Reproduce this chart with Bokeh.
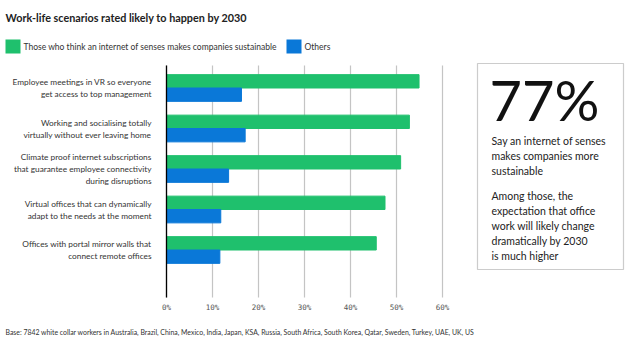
from bokeh.plotting import figure
from bokeh.models import ColumnDataSource, Range1d, Label, BoxAnnotation
from bokeh.embed import file_html
from bokeh.resources import INLINE

scenarios = [
    "Employee meetings in VR so everyone\nget access to top management",
    "Working and socialising totally\nvirtually without ever leaving home",
    "Climate proof internet subscriptions\nthat guarantee employee connectivity\nduring disruptions",
    "Virtual offices that can dynamically\nadapt to the needs at the moment",
    "Offices with portal mirror walls that\nconnect remote offices",
]
sustainable = [54.9, 52.8, 50.9, 47.5, 45.6]
others = [16.3, 17.1, 13.5, 11.8, 11.6]
x_ticks = [0, 10, 20, 30, 40, 50, 60]
x_tick_labels = [f"{t}%" for t in x_ticks]

series_names = ["Those who think an internet of senses makes companies sustainable", "Others"]
GREEN = "#1fc06d"
BLUE = "#0a78d8"
FONT = "Lato"

W, H = 639, 352
# scale: 4.6 px per percentage point, 0% at x=166 px; 40.5 px per category, first at y=87.5 px
PX_PER_PCT, X0 = 4.6, 166
PX_PER_CAT, Y0 = 40.5, 87.5
x_lo, x_hi = -X0 / PX_PER_PCT, (W - X0) / PX_PER_PCT
y_top, y_bot = -Y0 / PX_PER_CAT, (H - Y0) / PX_PER_CAT
GRID_TOP, GRID_BOT = -0.556, 5.173
TICK_Y = 5.42


def sx(cx):
    return cx


def sy(cy):
    return H - cy


idx = list(range(len(scenarios)))
src = ColumnDataSource(dict(
    y_g=[i - 0.165 for i in idx],
    y_b=[i + 0.165 for i in idx],
    sus=sustainable,
    oth=others,
))

p = figure(width=W, height=H, output_backend="svg", toolbar_location=None,
           x_range=Range1d(x_lo, x_hi), y_range=Range1d(y_bot, y_top),
           min_border=0)
p.axis.visible = False
p.grid.visible = False
p.outline_line_color = None
p.background_fill_color = "white"
p.border_fill_color = "white"

# grid lines and tick labels from the tick values
p.segment(x0=x_ticks, x1=x_ticks, y0=[GRID_TOP] * len(x_ticks), y1=[GRID_BOT] * len(x_ticks),
          line_color="#c4c4c4", line_width=1.2)
p.text(x=x_ticks, y=[TICK_Y] * len(x_ticks), text=x_tick_labels,
       text_align="center", text_baseline="middle",
       text_font={"value": "DejaVu Sans Mono"}, text_font_size="7.5px", text_color="#555555")

p.hbar(y="y_g", left=0, right="sus", height=0.33, color=GREEN, source=src)
p.hbar(y="y_b", left=0, right="oth", height=0.33, color=BLUE, source=src)

# value axis line at 0%
p.segment(x0=[0], x1=[0], y0=[GRID_TOP], y1=[GRID_BOT], line_color="black", line_width=1.3)

# category labels
for i, s in enumerate(scenarios):
    p.add_layout(Label(x=sx(151), x_units="screen", y=i, y_units="data", text=s,
                       text_align="right", text_baseline="middle",
                       text_font=FONT, text_font_size="8.3px", text_color="#333333",
                       text_line_height=1.2))

# title
p.add_layout(Label(x=sx(5), y=sy(17), x_units="screen", y_units="screen",
                   text="Work-life scenarios rated likely to happen by 2030",
                   text_font=FONT, text_font_style="bold", text_font_size="10.8px",
                   text_color="#222222", text_baseline="middle"))

# legend
for (x0, col, name, tx) in [(5, GREEN, series_names[0], 23), (286, BLUE, series_names[1], 304)]:
    p.add_layout(BoxAnnotation(left=sx(x0), right=sx(x0 + 15), top=sy(39), bottom=sy(53),
                               left_units="screen", right_units="screen",
                               top_units="screen", bottom_units="screen",
                               fill_color=col, fill_alpha=1, line_color=None, level="overlay"))
    p.add_layout(Label(x=sx(tx), y=sy(46), x_units="screen", y_units="screen", text=name,
                       text_font=FONT, text_font_size="8.5px", text_color="#333333",
                       text_baseline="middle"))

# callout box
p.add_layout(BoxAnnotation(left=sx(477), right=sx(623), top=sy(63), bottom=sy(269),
                           left_units="screen", right_units="screen",
                           top_units="screen", bottom_units="screen",
                           fill_color=None, fill_alpha=0, line_color="#555555", line_width=1.2,
                           level="overlay"))
p.add_layout(Label(x=sx(489), y=sy(99), x_units="screen", y_units="screen", text="77%",
                   text_font=FONT, text_font_size="56px",
                   text_color="#111111", text_baseline="middle"))
p.add_layout(Label(x=sx(491), y=sy(134), x_units="screen", y_units="screen",
                   text="Say an internet of senses\nmakes companies more\nsustainable",
                   text_font=FONT, text_font_size="10.5px", text_color="#222222",
                   text_baseline="top", text_line_height=1.25))
p.add_layout(Label(x=sx(491), y=sy(189), x_units="screen", y_units="screen",
                   text="Among those, the\nexpectation that office\nwork will likely change\ndramatically by 2030\nis much higher",
                   text_font=FONT, text_font_size="10.5px", text_color="#222222",
                   text_baseline="top", text_line_height=1.25))

# footer
p.add_layout(Label(x=sx(5), y=sy(331), x_units="screen", y_units="screen",
                   text="Base: 7842 white collar workers in Australia, Brazil, China, Mexico, India, Japan, KSA, Russia, South Africa, South Korea, Qatar, Sweden, Turkey, UAE, UK, US",
                   text_font=FONT, text_font_size="6.9px", text_color="#333333",
                   text_baseline="middle"))

open("out.html", "w").write(file_html(p, INLINE))
